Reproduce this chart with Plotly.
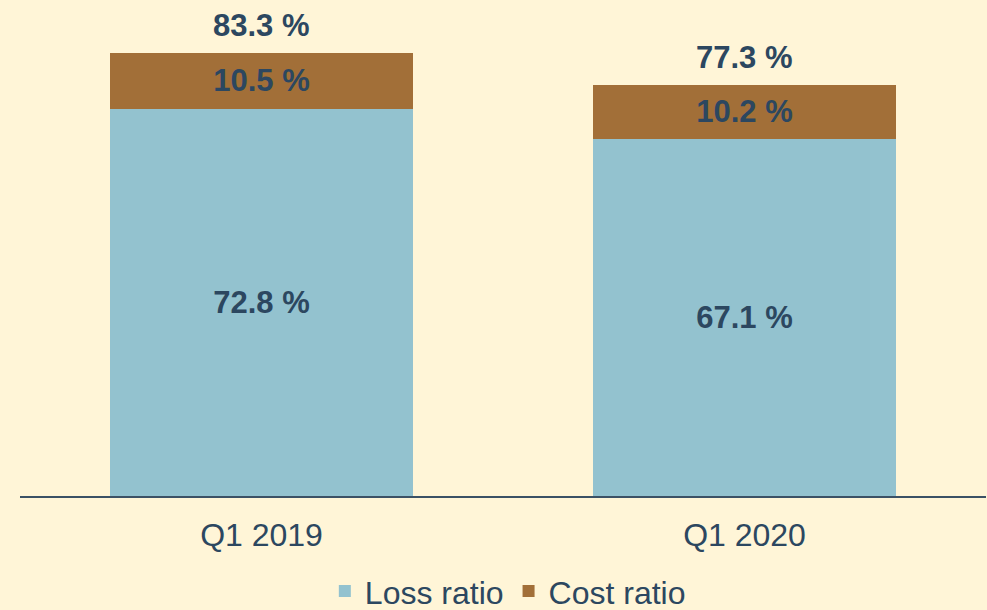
import plotly.graph_objects as go

categories = ["Q1 2019", "Q1 2020"]
loss_ratio = [72.8, 67.1]
cost_ratio = [10.5, 10.2]
combined_ratio = [83.3, 77.3]

BG = "#FFF5D7"
TXT = "#2C4760"
BLUE = "#93C2CF"
BROWN = "#A26F38"
FONT = "Liberation Sans, Arial, sans-serif"

def fmt(v):
    return f"<b>{v:.1f} %</b>"

fig = go.Figure()
fig.add_trace(go.Bar(
    name="Loss ratio", x=categories, y=loss_ratio,
    marker=dict(color=BLUE, line=dict(width=0)),
    text=[fmt(v) for v in loss_ratio], textposition="inside",
    insidetextanchor="middle", textangle=0,
    textfont=dict(size=31, color=TXT, family=FONT),
    constraintext="none",
))
fig.add_trace(go.Bar(
    name="Cost ratio", x=categories, y=cost_ratio,
    marker=dict(color=BROWN, line=dict(width=0)),
    text=[fmt(v) for v in cost_ratio], textposition="inside",
    insidetextanchor="middle", textangle=0,
    textfont=dict(size=31, color=TXT, family=FONT),
    constraintext="none",
))

for c, t in zip(categories, combined_ratio):
    fig.add_annotation(x=c, y=t, text=fmt(t), showarrow=False,
                       yanchor="bottom", yshift=8,
                       font=dict(size=31, color=TXT, family=FONT))

fig.update_layout(
    barmode="stack",
    bargap=0.373,
    width=987, height=610,
    paper_bgcolor=BG, plot_bgcolor=BG,
    margin=dict(l=20, r=1, t=17, b=114, autoexpand=False),
    font=dict(family=FONT, color=TXT, size=32),
    showlegend=True,
    legend=dict(orientation="h", x=0.505, xanchor="center",
                y=-0.199, yanchor="middle", traceorder="normal",
                font=dict(size=32, color=TXT, family=FONT),
                bgcolor="rgba(0,0,0,0)", itemclick=False),
    xaxis=dict(showline=True, linecolor="#3B5165", linewidth=2,
               ticks="", showgrid=False, zeroline=False,
               ticklabelstandoff=10,
               tickfont=dict(size=32, color=TXT, family=FONT)),
    yaxis=dict(range=[0, 90], visible=False, showgrid=False, zeroline=False),
)

fig.write_html("out.html", config={"displayModeBar": False},
               post_script="document.body.style.margin='0';")
